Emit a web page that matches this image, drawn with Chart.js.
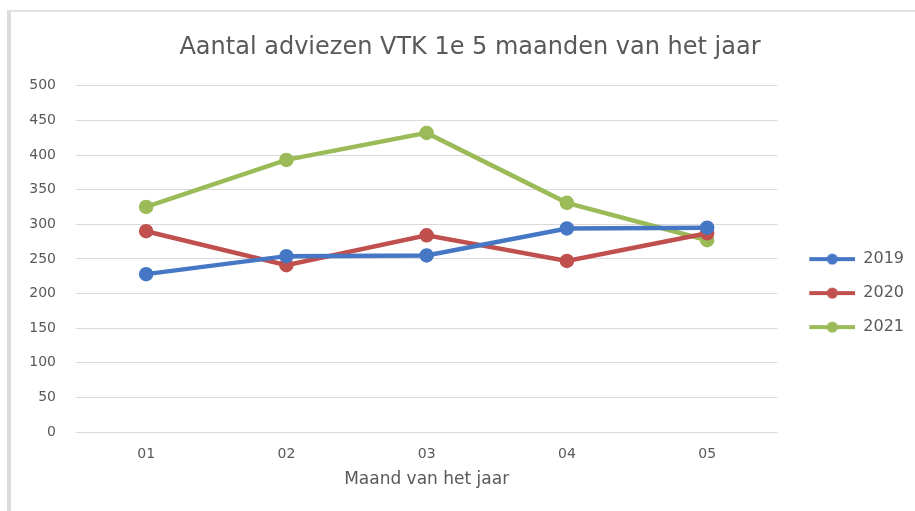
<!DOCTYPE html>
<html>
<head>
<meta charset="utf-8">
<script src="https://cdn.jsdelivr.net/npm/chart.js@4/dist/chart.umd.min.js"></script>
<style>
  html, body { margin: 0; padding: 0; background: #fff; }
  #wrap { position: relative; width: 915px; height: 511px; }
  #frame {
    position: absolute; left: 7px; top: 10px; right: 0; bottom: 0;
    border-left: 4px solid #dcdcdc; border-top: 2px solid #e2e2e2;
    pointer-events: none;
  }
</style>
</head>
<body>
<div id="wrap">
  <canvas id="chart" width="915" height="511"></canvas>
  <div id="frame"></div>
</div>
<script>
const months = ['01', '02', '03', '04', '05'];
const years = ['2019', '2020', '2021'];
const values2019 = [228, 254, 255, 294, 295];
const values2020 = [290, 241, 284, 247, 287];
const values2021 = [325, 393, 432, 331, 277];
const yTicks = [0, 50, 100, 150, 200, 250, 300, 350, 400, 450, 500];
const colors = ['#4577c4', '#c0504d', '#9bbb59'];

const textColor = '#595959';
const fontFamily = '"DejaVu Sans", sans-serif';

// line + dot swatch for the legend (blank strip on the left as spacing)
function legendSwatch(color) {
    const c = document.createElement('canvas');
    c.width = 60;
    c.height = 14;
    const ctx = c.getContext('2d');
    ctx.strokeStyle = color;
    ctx.lineWidth = 4;
    ctx.beginPath();
    ctx.moveTo(14, 7);
    ctx.lineTo(60, 7);
    ctx.stroke();
    ctx.fillStyle = color;
    ctx.beginPath();
    ctx.arc(37, 7, 5.5, 0, Math.PI * 2);
    ctx.fill();
    return c;
}

const series = [values2019, values2020, values2021];

new Chart(document.getElementById('chart'), {
    type: 'line',
    data: {
        labels: months,
        datasets: series.map((vals, i) => ({
            label: years[i],
            data: vals,
            borderColor: colors[i],
            backgroundColor: colors[i],
            borderWidth: 4.5,
            pointRadius: 5,
            pointHoverRadius: 5,
            tension: 0
        }))
    },
    options: {
        responsive: false,
        animation: false,
        layout: { padding: { left: 26, right: 1, top: 0, bottom: 0 } },
        plugins: {
            title: {
                display: true,
                text: 'Aantal adviezen VTK 1e 5 maanden van het jaar',
                color: textColor,
                font: { family: fontFamily, size: 24, weight: 'normal' },
                padding: { top: 33, bottom: 24 }
            },
            legend: {
                position: 'right',
                title: { display: true, text: '', font: { size: 1 }, padding: { top: 0, bottom: 74 } },
                labels: {
                    color: textColor,
                    font: { family: fontFamily, size: 16 },
                    usePointStyle: true,
                    pointStyleWidth: 60,
                    padding: 18,
                    generateLabels: chart => chart.data.datasets.map((ds, i) => ({
                        text: ds.label,
                        pointStyle: legendSwatch(ds.borderColor),
                        fillStyle: ds.borderColor,
                        strokeStyle: ds.borderColor,
                        lineWidth: 0,
                        fontColor: textColor,
                        datasetIndex: i
                    }))
                }
            },
            tooltip: { enabled: false }
        },
        scales: {
            x: {
                offset: true,
                afterFit: s => { s.height = 79; },
                grid: { display: false, drawTicks: false },
                border: { display: false },
                ticks: { color: textColor, font: { family: fontFamily, size: 14 }, padding: 14 },
                title: {
                    display: true,
                    text: 'Maand van het jaar',
                    color: textColor,
                    font: { family: fontFamily, size: 17 },
                    padding: { top: 0, bottom: 21 }
                }
            },
            y: {
                min: 0,
                max: 500,
                afterBuildTicks: s => { s.ticks = yTicks.map(v => ({ value: v })); },
                afterFit: s => { s.width = 50; },
                grid: { color: '#d9d9d9', lineWidth: 1, drawTicks: false },
                border: { display: false },
                ticks: { color: textColor, font: { family: fontFamily, size: 14 }, padding: 20 }
            }
        }
    }
});
</script>
</body>
</html>
